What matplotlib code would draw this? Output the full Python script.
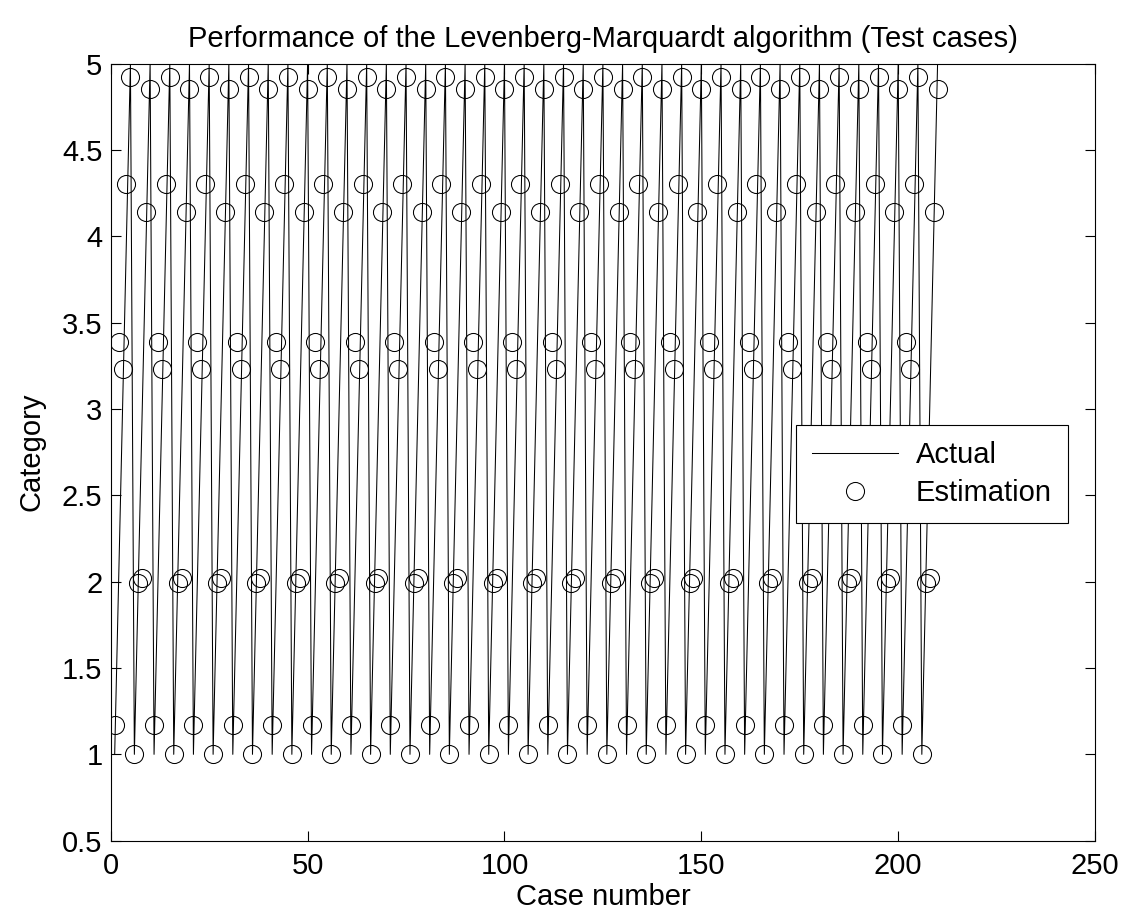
import numpy as np
import matplotlib
matplotlib.use("Agg")
import matplotlib.pyplot as plt


# ============================================================
# Data
# 210 test cases, the same 10-case pattern repeats 21 times
# ============================================================

ACTUAL_BLOCK = [1, 2, 3, 4, 5, 1, 2, 3, 4, 5]
ESTIMATE_BLOCK = [1.17, 3.39, 3.23, 4.30, 4.92, 1.00, 1.99, 2.02, 4.14, 4.85]
N_BLOCKS = 21

X_TICKS = [0, 50, 100, 150, 200, 250]
Y_TICKS = [0.5, 1, 1.5, 2, 2.5, 3, 3.5, 4, 4.5, 5]
Y_TICK_LABELS = ["0.5", "1", "1.5", "2", "2.5", "3", "3.5", "4", "4.5", "5"]

cases = np.arange(1, len(ACTUAL_BLOCK) * N_BLOCKS + 1)
actual = np.tile(ACTUAL_BLOCK, N_BLOCKS)
estimate = np.tile(ESTIMATE_BLOCK, N_BLOCKS)

# ============================================================
# Plot
# ============================================================

plt.rcParams["font.family"] = ["Liberation Sans", "DejaVu Sans"]
FS = 21

fig = plt.figure(figsize=(11.22, 9.14), dpi=100)
ax = fig.add_axes([0.0987, 0.0802, 0.8773, 0.8503])

ax.plot(cases, actual, color="black", linewidth=0.75, label="Actual")
ax.plot(cases, estimate, linestyle="none", marker="o", markersize=13,
        markerfacecolor="none", markeredgecolor="black",
        markeredgewidth=0.75, label="Estimation")

ax.set_xlim(0, 250)
ax.set_ylim(0.5, 5)
ax.set_xticks(X_TICKS)
ax.set_yticks(Y_TICKS)
ax.set_yticklabels(Y_TICK_LABELS)
ax.tick_params(direction="in", length=7.5, width=0.8, labelsize=FS,
               top=True, right=True)
ax.tick_params(axis="y", pad=6)
ax.tick_params(axis="x", pad=8)
for s in ax.spines.values():
    s.set_linewidth(0.8)

ax.set_xlabel("Case number", fontsize=FS, labelpad=2)
ax.set_ylabel("Category", fontsize=FS, labelpad=12)
ax.set_title("Performance of the Levenberg-Marquardt algorithm (Test cases)",
             fontsize=FS, pad=12)

leg = ax.legend(loc="upper right", bbox_to_anchor=(0.972, 0.535),
                fontsize=FS, frameon=True, fancybox=False, framealpha=1,
                edgecolor="black", borderaxespad=0, handlelength=2.95,
                handletextpad=0.6, labelspacing=0.35, borderpad=0.55)
leg.get_frame().set_linewidth(0.8)

fig.savefig("out.png", dpi=100)
